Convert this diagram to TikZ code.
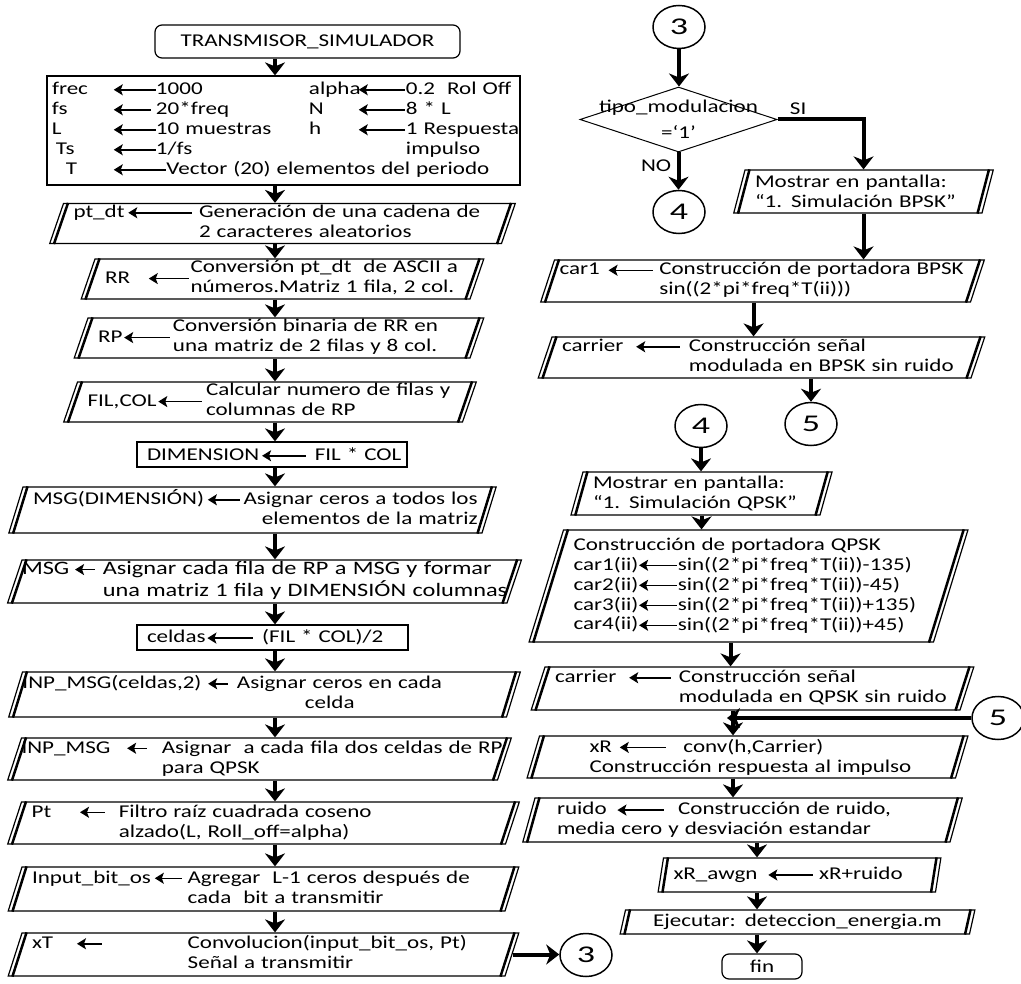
\documentclass[tikz,border=0pt]{standalone}
\usepackage{fontspec}
\setmainfont{Carlito}[FakeStretch=1.28]
\newfontfamily\cifra{Carlito}[FakeStretch=1.5]
\usetikzlibrary{arrows.meta,shapes.geometric}

\newcommand{\texto}{\fontsize{18}{20}\selectfont}
% flecha de asignacion dentro de los bloques
\newcommand{\flecha}[1]{\tikz[baseline=-0.55ex]\draw[{Stealth[length=9pt,width=11pt,inset=2pt]}-,line width=1.5pt] (0,0) -- (#1,0);}

\begin{document}
\begin{tikzpicture}[x=1pt,y=-1pt,>={Stealth[length=13pt,width=20pt,inset=4pt]},
  flujo/.style={->,line width=4pt},
  inicio/.style={draw,rectangle,rounded corners=7pt,line width=1.2pt,font=\texto},
  proceso/.style={draw,rectangle,line width=1.2pt,align=left,inner xsep=10pt,font=\texto},
  dato/.style 2 args={draw,trapezium,trapezium left angle=71,trapezium right angle=109,
    trapezium stretches=true,line width=1.2pt,text width=#1,minimum height=#2,
    inner xsep=10pt,inner ysep=0pt,align=left,font=\texto,
    append after command={([xshift=5pt]\tikzlastnode.bottom left corner) edge[-,line width=2.5pt] ([xshift=5pt]\tikzlastnode.top left corner)
      ([xshift=-5pt]\tikzlastnode.bottom right corner) edge[-,line width=2.5pt] ([xshift=-5pt]\tikzlastnode.top right corner)}},
  decision/.style={draw,diamond,minimum width=197pt,minimum height=65pt,inner sep=0pt,line width=1pt,font=\texto},
  conector/.style={draw,ellipse,minimum width=52pt,minimum height=43pt,inner sep=0pt,line width=1.5pt,font=\cifra\fontsize{24}{24}\selectfont}]

\useasboundingbox (0,0) rectangle (1021,984);

% columna izquierda
\coordinate (colI) at (275,0);
\node[inicio,minimum width=305pt,minimum height=33pt] (inicio) at (307.5,41.5) {TRANSMISOR\_SIMULADOR};
\node[proceso,text width=463pt,minimum height=109pt,inner xsep=5pt] (param) at (283.5,130.5) {%
  \begin{tabular}{@{}p{61pt}@{}p{43pt}@{}p{153pt}@{}p{49pt}@{}p{48pt}@{}l@{}}
  frec & \flecha{42pt} & 1000 & alpha & \flecha{46pt} & 0.2~~Rol Off\\
  fs & \flecha{37pt} & 20*freq & N & \flecha{46pt} & 8 * L\\
  L & \flecha{42pt} & 10 muestras & h & \flecha{46pt} & 1 Respuesta\\
  \hspace*{4pt}Ts & \flecha{42pt} & 1/fs & & & impulso\\
  \hspace*{14pt}T & \multicolumn{5}{@{}l@{}}{\flecha{52pt}Vector (20) elementos del periodo}
  \end{tabular}};
\node[dato={418pt}{39pt}] (ptdt) at (282.5,223.5) {\mbox{pt\_dt\hspace{3pt}\flecha{64pt}\hspace{6pt}\begin{tabular}[t]{@{}l@{}}Generación de una cadena de\\2 caracteres aleatorios\end{tabular}}};
\node[dato={355pt}{38pt}] (rr) at (282.5,279) {\mbox{RR\hspace{18pt}\flecha{40pt}\hspace{1pt}\begin{tabular}[c]{@{}l@{}}Conversión pt\_dt~ de ASCII a\\números.Matriz 1 fila, 2 col.\end{tabular}}};
\node[dato={362pt}{38pt}] (rp) at (279,338) {\mbox{RP\hspace{1pt}\flecha{46pt}\hspace{2pt}\begin{tabular}[c]{@{}l@{}}Conversión binaria de RR en\\una matriz de 2 filas y 8 col.\end{tabular}}};
\node[dato={365pt}{36pt}] (filcol) at (270,402) {\mbox{FIL,COL\hspace{1pt}\flecha{44pt}\hspace{3pt}\begin{tabular}[c]{@{}l@{}}Calcular numero de filas y\\columnas de RP\end{tabular}}};
\node[proceso,text width=250pt,minimum height=25pt,inner ysep=2pt] (dim) at (272,454.5) {\mbox{DIMENSION\hspace{2pt}\flecha{44pt}\hspace{8pt}FIL * COL}};
\node[dato={439pt}{46pt}] (msgdim) at (252.5,510) {\mbox{MSG(DIMENSIÓN)\hspace{3pt}\flecha{32pt}\hspace{3pt}\begin{tabular}[t]{@{}r@{}}Asignar ceros a todos los\\elementos de la matriz\end{tabular}}};
\node[dato={485pt}{43pt},inner xsep=0pt,font=\fontsize{19}{20}\selectfont] (msg) at (264.5,581.5) {\mbox{MSG\hspace{5pt}\flecha{20pt}\hspace{7pt}\begin{tabular}[t]{@{}l@{}}Asignar cada fila de RP a MSG y formar\\una matriz 1 fila y DIMENSIÓN columnas\end{tabular}}};
\node[proceso,text width=251pt,minimum height=25pt,inner ysep=2pt] (celdas) at (272.5,637.5) {\mbox{celdas\hspace{1pt}\flecha{46pt}\hspace{8pt}(FIL * COL)/2}};
\node[dato={484pt}{45pt},inner xsep=0pt] (inpcel) at (264.5,694.5) {\mbox{INP\_MSG(celdas,2)\hspace{6pt}\flecha{20pt}\hspace{8pt}\begin{tabular}[t]{@{}l@{}}Asignar ceros en cada\\\hspace*{68pt}celda\end{tabular}}};
\node[dato={476pt}{42pt},inner xsep=0pt] (inpmsg) at (259.5,759) {\mbox{INP\_MSG\hspace{16pt}\flecha{20pt}\hspace{14pt}\begin{tabular}[t]{@{}l@{}}Asignar~ a cada fila dos celdas de RP\\para QPSK\end{tabular}}};
\node[dato={464pt}{42pt}] (pt) at (263.5,823) {\mbox{Pt\hspace{28pt}\flecha{25pt}\hspace{13pt}\begin{tabular}[t]{@{}l@{}}Filtro raíz cuadrada coseno\\alzado(L, Roll\_off=alpha)\end{tabular}}};
\node[dato={463pt}{44pt}] (inbit) at (263.5,889) {\mbox{Input\_bit\_os\hspace{3pt}\flecha{27pt}\hspace{5pt}\begin{tabular}[t]{@{}l@{}}Agregar~ L-1 ceros después de\\cada~ bit a transmitir\end{tabular}}};
\node[dato={463pt}{43pt}] (xt) at (263.5,954.5) {\mbox{xT\hspace{23pt}\flecha{25pt}\hspace{85pt}\begin{tabular}[t]{@{}l@{}}Convolucion(input\_bit\_os, Pt)\\Señal a transmitir\end{tabular}}};
\node[conector] (c3b) at (586,955) {3};

% columna derecha
\node[conector] (c3) at (679,27) {3};
\node[decision] (tipo) at (678.5,119.5) {\smash{\makebox[0pt]{\raisebox{-6pt}{\begin{tabular}{c}tipo\_modulacion\\[6pt]=‘1’\end{tabular}}}}};
\node[conector] (c4a) at (679,212) {4};
\node[dato={217pt}{43pt}] (bpskmsg) at (863.5,191.5) {Mostrar en pantalla:\\“1. Simulación BPSK”};
\node[dato={406pt}{42pt},inner xsep=5pt] (car1) at (762.5,281) {\mbox{car1\hspace{8pt}\flecha{44pt}\hspace{6pt}\begin{tabular}[t]{@{}l@{}}Construcción de portadora BPSK\\sin((2*pi*freq*T(ii)))\end{tabular}}};
\node[dato={399pt}{41pt}] (carb) at (761.5,357.5) {\mbox{carrier\hspace{12pt}\flecha{44pt}\hspace{8pt}\begin{tabular}[t]{@{}l@{}}Construcción señal\\modulada en BPSK sin ruido\end{tabular}}};
\node[conector] (c5a) at (811,424) {5};
\node[conector] (c4b) at (701,426) {4};
\node[dato={217pt}{43pt}] (qpskmsg) at (701.5,493.5) {Mostrar en pantalla:\\“1. Simulación QPSK”};
\node[dato={350pt}{112pt}] (cons) at (748.5,586) {\begin{tabular}{@{}l@{}l@{}l@{}}
  \multicolumn{3}{@{}l@{}}{Construcción de portadora QPSK}\\
  car1(ii)&\flecha{38pt}\hspace{4pt}&sin((2*pi*freq*T(ii))-135)\\
  car2(ii)&\flecha{38pt}\hspace{4pt}&sin((2*pi*freq*T(ii))-45)\\
  car3(ii)&\flecha{38pt}\hspace{4pt}&sin((2*pi*freq*T(ii))+135)\\
  car4(ii)&\flecha{38pt}\hspace{4pt}&sin((2*pi*freq*T(ii))+45)
  \end{tabular}};
\node[dato={395pt}{43pt}] (carq) at (752.5,688.5) {\mbox{carrier\hspace{12pt}\flecha{42pt}\hspace{7pt}\begin{tabular}[t]{@{}l@{}}Construcción señal\\modulada en QPSK sin ruido\end{tabular}}};
\node[conector] (c5b) at (998,718) {5};
\node[dato={396pt}{42pt}] (xr) at (747.5,757) {\hspace*{40pt}xR\hspace{7pt}\flecha{46pt}\hspace{17pt}conv(h,Carrier)\\\hspace*{40pt}Construcción respuesta al impulso};
\node[dato={395pt}{44pt}] (ruido) at (742.5,820) {\hspace*{12pt}ruido\hspace{10pt}\flecha{47pt}\hspace{13pt}Construcción de ruido,\\\hspace*{12pt}media cero y desviación estandar};
\node[dato={252pt}{34pt}] (awgn) at (799.5,875) {\mbox{xR\_awgn\hspace{10pt}\flecha{45pt}\hspace{5pt}xR+ruido}};
\node[dato={324pt}{24pt},align=center] (ejec) at (797.5,922) {Ejecutar: deteccion\_energia.m};
\node[inicio,minimum width=80pt,minimum height=25pt,inner sep=0pt] (fin) at (762,966.5) {fin};

% conectores
\foreach \a/\b in {inicio/param,param/ptdt,ptdt/rr,rr/rp,rp/filcol,filcol/dim,dim/msgdim,
    msgdim/msg,msg/celdas,celdas/inpcel,inpcel/inpmsg,inpmsg/pt,pt/inbit,inbit/xt}
  \draw[flujo] (\a.south -| colI) -- (\b.north -| colI);
\draw[flujo] (xt.east) -- (xt.east -| c3b.west);

\coordinate (colQ) at (733,0);
\coordinate (colR) at (757,0);
\draw[flujo] (c3.south) -- (c3.south |- tipo.north);
\draw[flujo] (tipo.south) -- (tipo.south |- c4a.north) node[pos=0.35,left=2pt] {\texto NO};
\draw[flujo] (tipo.east) -| (bpskmsg.north) node[pos=0.12,above] {\texto SI};
\draw[flujo] (bpskmsg.south) -- (bpskmsg.south |- car1.north);
\draw[flujo] ([xshift=-9pt]car1.south) -- ([xshift=-9pt]car1.south |- carb.north);
\draw[flujo] (carb.south -| c5a) -- (c5a.north);
\draw[flujo] (c4b.south) -- (c4b.south |- qpskmsg.north);
\draw[flujo] (qpskmsg.south) -- (qpskmsg.south |- cons.north);
\draw[flujo] ([xshift=-18pt]cons.south) -- ([xshift=-18pt]cons.south |- carq.north);
\draw[flujo] (carq.south -| colQ) -- (xr.north -| colQ);
\draw[flujo,shorten >=-6pt] (c5b.west) -- (c5b.west -| colQ);
\draw[flujo] (xr.south -| colQ) -- (ruido.north -| colQ);
\draw[flujo] (ruido.south -| colR) -- (awgn.north -| colR);
\draw[flujo] (awgn.south -| colR) -- (ejec.north -| colR);
\draw[flujo] (ejec.south -| colR) -- (fin.north -| colR);

\end{tikzpicture}
\end{document}
